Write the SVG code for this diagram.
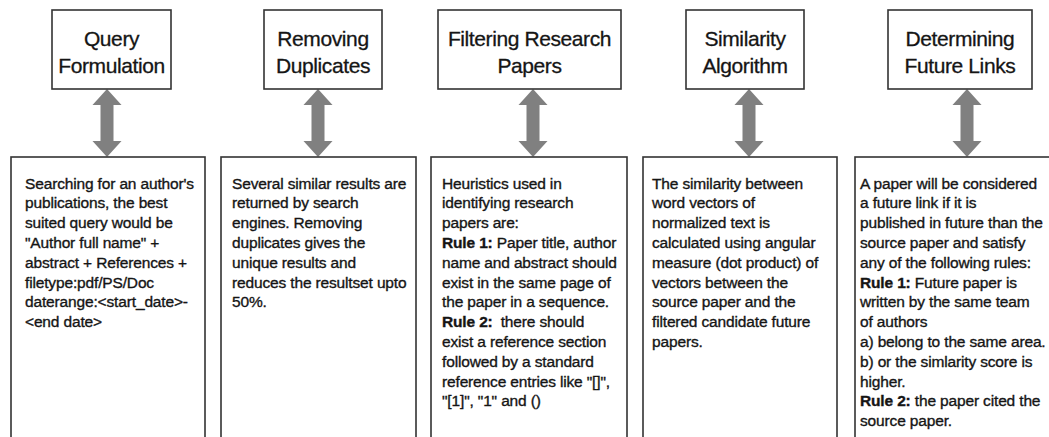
<svg xmlns="http://www.w3.org/2000/svg" width="1049" height="437" viewBox="0 0 1049 437">
  <style>
    .box { fill: #ffffff; stroke: #333333; stroke-width: 1.6; }
    .title { font-family: "Liberation Sans", Arial, sans-serif; font-size: 21px; letter-spacing: -0.4px; fill: #151515; stroke: #151515; stroke-width: 0.3px; text-anchor: middle; }
    .body { font-family: "Liberation Sans", Arial, sans-serif; font-size: 15.5px; letter-spacing: -0.15px; fill: #151515; stroke: #151515; stroke-width: 0.35px; }
    .b { font-weight: bold; }
    .arrow { fill: #808080; }
  </style>
  <defs>
    <!-- double-headed block arrow, centred on x=0, spanning y=89..157 -->
    <path id="dbl" d="M0 89 L14.5 105 L6.5 105 L6.5 141 L14.5 141 L0 157 L-14.5 141 L-6.5 141 L-6.5 105 L-14.5 105 Z"/>
  </defs>
  <rect width="1049" height="437" fill="#ffffff"/>

  <!-- connectors between each heading and its description -->
  <g id="connectors" class="arrow">
    <use href="#dbl" x="107"/>
    <use href="#dbl" x="318"/>
    <use href="#dbl" x="533"/>
    <use href="#dbl" x="749"/>
    <use href="#dbl" x="967"/>
  </g>

  <!-- headings -->
  <g id="query-formulation">
    <rect class="box" x="52" y="10" width="119" height="79"/>
    <text class="title" x="111.5" y="46">Query</text>
    <text class="title" x="111.5" y="73">Formulation</text>
  </g>
  <g id="removing-duplicates">
    <rect class="box" x="264" y="10" width="118" height="79"/>
    <text class="title" x="323" y="46">Removing</text>
    <text class="title" x="323" y="73">Duplicates</text>
  </g>
  <g id="filtering-papers">
    <rect class="box" x="438" y="10" width="183" height="79"/>
    <text class="title" x="529.5" y="46">Filtering Research</text>
    <text class="title" x="529.5" y="73">Papers</text>
  </g>
  <g id="similarity-algorithm">
    <rect class="box" x="686" y="10" width="118" height="79"/>
    <text class="title" x="745" y="46">Similarity</text>
    <text class="title" x="745" y="73">Algorithm</text>
  </g>
  <g id="future-links">
    <rect class="box" x="888" y="10" width="144" height="79"/>
    <text class="title" x="960" y="46">Determining</text>
    <text class="title" x="960" y="73">Future Links</text>
  </g>

  <!-- descriptions -->
  <g id="query-desc">
    <rect class="box" x="11" y="157" width="194" height="300"/>
    <text class="body">
      <tspan x="25" y="188.5">Searching for an author's</tspan>
      <tspan x="25" y="208.3">publications, the best</tspan>
      <tspan x="25" y="228.1">suited query would be</tspan>
      <tspan x="25" y="247.9">"Author full name" +</tspan>
      <tspan x="25" y="267.7">abstract + References +</tspan>
      <tspan x="25" y="287.5">filetype:pdf/PS/Doc</tspan>
      <tspan x="25" y="307.3">daterange:&lt;start_date&gt;-</tspan>
      <tspan x="25" y="327.1">&lt;end date&gt;</tspan>
    </text>
  </g>
  <g id="duplicates-desc">
    <rect class="box" x="221" y="157" width="195" height="300"/>
    <text class="body">
      <tspan x="232" y="188.5">Several similar results are</tspan>
      <tspan x="232" y="208.3">returned by search</tspan>
      <tspan x="232" y="228.1">engines. Removing</tspan>
      <tspan x="232" y="247.9">duplicates gives the</tspan>
      <tspan x="232" y="267.7">unique results and</tspan>
      <tspan x="232" y="287.5">reduces the resultset upto</tspan>
      <tspan x="232" y="307.3">50%.</tspan>
    </text>
  </g>
  <g id="filtering-desc">
    <rect class="box" x="431" y="157" width="196" height="300"/>
    <text class="body">
      <tspan x="442" y="188.5">Heuristics used in</tspan>
      <tspan x="442" y="208.3">identifying research</tspan>
      <tspan x="442" y="228.1">papers are:</tspan>
      <tspan x="442" y="247.9" class="b">Rule 1:</tspan><tspan> Paper title, author</tspan>
      <tspan x="442" y="267.7">name and abstract should</tspan>
      <tspan x="442" y="287.5">exist in the same page of</tspan>
      <tspan x="442" y="307.3">the paper in a sequence.</tspan>
      <tspan x="442" y="327.1" class="b">Rule 2:</tspan><tspan dx="8">there should</tspan>
      <tspan x="442" y="346.9">exist a reference section</tspan>
      <tspan x="442" y="366.7">followed by a standard</tspan>
      <tspan x="442" y="386.5">reference entries like "[]",</tspan>
      <tspan x="442" y="406.3">"[1]", "1" and ()</tspan>
    </text>
  </g>
  <g id="similarity-desc">
    <rect class="box" x="643" y="157" width="194" height="300"/>
    <text class="body">
      <tspan x="652" y="188.5">The similarity between</tspan>
      <tspan x="652" y="208.3">word vectors of</tspan>
      <tspan x="652" y="228.1">normalized text is</tspan>
      <tspan x="652" y="247.9">calculated using angular</tspan>
      <tspan x="652" y="267.7">measure (dot product) of</tspan>
      <tspan x="652" y="287.5">vectors between the</tspan>
      <tspan x="652" y="307.3">source paper and the</tspan>
      <tspan x="652" y="327.1">filtered candidate future</tspan>
      <tspan x="652" y="346.9">papers.</tspan>
    </text>
  </g>
  <g id="future-desc">
    <rect class="box" x="855" y="157" width="210" height="300"/>
    <text class="body">
      <tspan x="860" y="188.5">A paper will be considered</tspan>
      <tspan x="860" y="208.3">a future link if it is</tspan>
      <tspan x="860" y="228.1">published in future than the</tspan>
      <tspan x="860" y="247.9">source paper and satisfy</tspan>
      <tspan x="860" y="267.7">any of the following rules:</tspan>
      <tspan x="860" y="287.5" class="b">Rule 1:</tspan><tspan> Future paper is</tspan>
      <tspan x="860" y="307.3">written by the same team</tspan>
      <tspan x="860" y="327.1">of authors</tspan>
      <tspan x="860" y="346.9">a) belong to the same area.</tspan>
      <tspan x="860" y="366.7">b) or the simlarity score is</tspan>
      <tspan x="860" y="386.5">higher.</tspan>
      <tspan x="860" y="406.3" class="b">Rule 2:</tspan><tspan> the paper cited the</tspan>
      <tspan x="860" y="426.1">source paper.</tspan>
    </text>
  </g>
</svg>
